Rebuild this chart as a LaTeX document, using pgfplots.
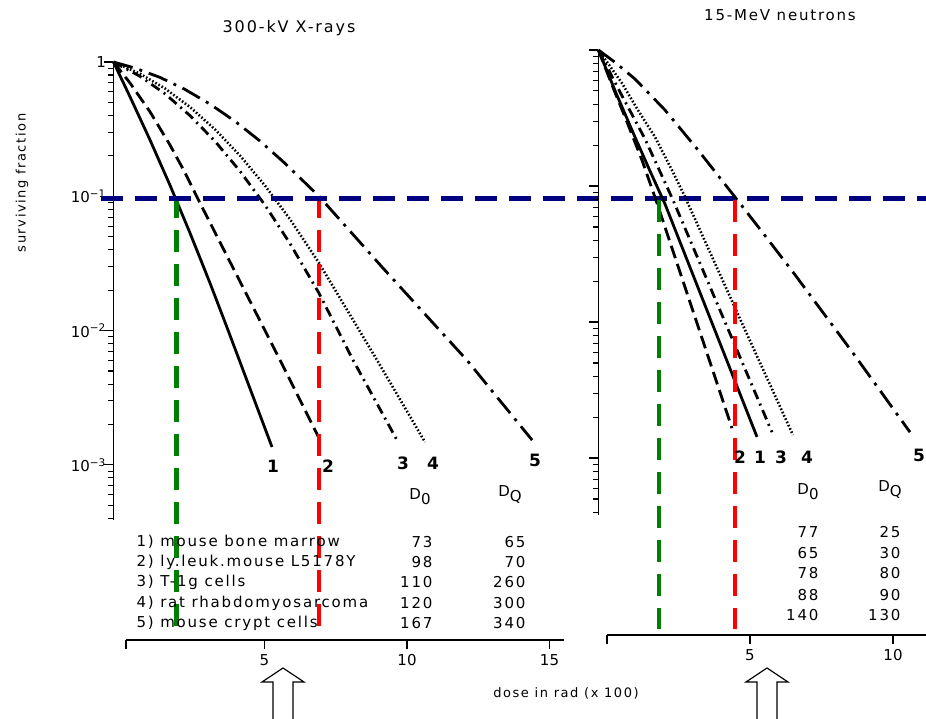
\documentclass[border=0pt]{standalone}
\usepackage{fontspec}
\setmainfont{DejaVu Sans}[LetterSpace=12]
\newfontfamily\nsf{DejaVu Sans}
\newfontfamily\bsf{DejaVu Sans Bold}
\usepackage{pgfplots}
\pgfplotsset{compat=1.18}
\definecolor{navyb}{RGB}{0,0,128}
\definecolor{grn}{RGB}{0,128,0}
\definecolor{rd}{RGB}{255,0,0}
\tikzset{
  cvA/.style={black, mark=none, line width=2.8pt, line join=round},
  cvB/.style={cvA, dash pattern=on 13pt off 6pt},
  cvC/.style={cvA, dash pattern=on 10pt off 5pt on 2pt off 5pt},
  cvD/.style={cvA, line width=2.6pt, dash pattern=on 1.6pt off 2pt},
  cvE/.style={cvA, dash pattern=on 20pt off 7pt on 3pt off 7pt},
}
\begin{document}
\begin{tikzpicture}
\path[use as bounding box] (0pt,0pt) rectangle (926pt,719pt);

% ---------------- left panel: 300-kV X-rays
\begin{axis}[scale only axis, clip=false, ymode=log, ymax=1,
  axis line style={draw=none},
  xtick pos=bottom, ytick pos=left, tick align=outside,
  major tick length=9pt, minor tick length=5pt,
  tick style={black, line width=1.1pt},
  ytick={0.001,0.01,0.1,1},
  minor ytick={4e-4,5e-4,6e-4,7e-4,8e-4,9e-4,2e-3,3e-3,4e-3,5e-3,6e-3,7e-3,8e-3,9e-3,2e-2,3e-2,4e-2,5e-2,6e-2,7e-2,8e-2,9e-2,0.2,0.3,0.4,0.5,0.6,0.7,0.8,0.9},
  xticklabel style={font=\nsf\fontsize{15}{15}\selectfont, yshift=-2pt},
  yticklabel style={font=\nsf\fontsize{15}{15}\selectfont, xshift=5pt},
  at={(113.45pt,79pt)}, anchor=south west,
  width=450.3pt, height=578pt, xmin=-0.3, xmax=15.5, ymin=4.97e-5,
  xtick={0.14,5,10,15}, xticklabels={,5,10,15},
  yticklabels={10\textsuperscript{−3},10\textsuperscript{−2},10\textsuperscript{−1},1}]
\addplot[black, mark=none, line width=1.3pt] coordinates {(-0.3,1) (-0.3,3.9e-4)};
\addplot[black, mark=none, line width=1.6pt] coordinates {(0.14,4.97e-5) (15.5,4.97e-5)};
% curves
\addplot[cvA] coordinates {(-0.3,1) (0.281,0.551) (0.982,0.263) (1.684,0.121) (2.386,0.0533) (3.088,0.0226) (3.719,0.0101) (5.263,1.36e-3)};
\addplot[cvB] coordinates {(-0.3,1) (0.281,0.698) (0.982,0.426) (1.684,0.241) (2.211,0.150) (2.737,0.0891) (5.544,6.04e-3) (6.947,1.53e-3)};
\addplot[cvC] coordinates {(-0.3,1) (0.632,0.783) (1.509,0.580) (2.386,0.399) (3.263,0.257) (4.140,0.154) (5.018,0.0859) (5.895,0.0445) (6.912,0.0190) (8.105,6.04e-3) (9.649,1.53e-3)};
\addplot[cvD] coordinates {(-0.3,1) (0.632,0.818) (1.509,0.635) (2.386,0.462) (3.263,0.315) (4.140,0.201) (5.018,0.120) (5.895,0.0675) (6.912,0.0319) (8.947,6.04e-3) (10.63,1.48e-3)};
\addplot[cvE] coordinates {(-0.3,1) (0.456,0.901) (1.333,0.768) (2.211,0.625) (3.088,0.486) (3.965,0.362) (4.842,0.258) (5.719,0.176) (6.912,0.1) (9.12,0.0298) (12.11,6.0e-3) (14.39,1.53e-3)};
% guide lines
\addplot[grn, mark=none, line width=4.5pt, dash pattern=on 22pt off 12pt] coordinates {(1.91,0.1) (1.91,5.5e-5)};
\addplot[rd, mark=none, line width=4.5pt, dash pattern=on 22pt off 12pt] coordinates {(6.91,0.1) (6.91,5.5e-5)};
\addplot[navyb, mark=none, line width=5pt, dash pattern=on 22pt off 12pt] coordinates {(-0.72,0.097) (28.8,0.097)};
\end{axis}

% ---------------- right panel: 15-MeV neutrons
\begin{axis}[scale only axis, clip=false, ymode=log, ymax=1,
  axis line style={draw=none},
  xtick pos=bottom, ytick pos=left, tick align=outside,
  major tick length=9pt, minor tick length=5pt,
  tick style={black, line width=1.1pt},
  ytick={0.001,0.01,0.1,1},
  minor ytick={4e-4,5e-4,6e-4,7e-4,8e-4,9e-4,2e-3,3e-3,4e-3,5e-3,6e-3,7e-3,8e-3,9e-3,2e-2,3e-2,4e-2,5e-2,6e-2,7e-2,8e-2,9e-2,0.2,0.3,0.4,0.5,0.6,0.7,0.8,0.9},
  xticklabel style={font=\nsf\fontsize{15}{15}\selectfont, yshift=-2pt},
  at={(598.4pt,84pt)}, anchor=south west,
  width=337.5pt, height=585pt, xmin=-0.3, xmax=11.5, ymin=5.0e-5,
  xtick={0,5,10}, xticklabels={,5,10},
  yticklabels={}]
\addplot[black, mark=none, line width=1.3pt] coordinates {(-0.3,1) (-0.3,3.8e-4)};
\addplot[black, mark=none, line width=1.6pt] coordinates {(0,5.0e-5) (11.5,5.0e-5)};
\addplot[cvB] coordinates {(-0.3,1) (0.175,0.553) (0.699,0.296) (1.224,0.155) (1.748,0.075) (4.37,1.66e-3)};
\addplot[cvA] coordinates {(-0.3,1) (0.315,0.483) (0.979,0.229) (1.503,0.129) (2.028,0.0738) (5.245,1.43e-3)};
\addplot[cvC] coordinates {(-0.3,1) (0.455,0.491) (1.329,0.222) (2.308,0.0789) (5.769,1.55e-3)};
\addplot[cvD] coordinates {(-0.3,1) (0.03,0.80) (0.52,0.572) (1.08,0.362) (1.68,0.229) (2.27,0.131) (2.73,0.083) (4.72,9.8e-3) (6.50,1.48e-3)};
\addplot[cvE] coordinates {(-0.3,1) (0.280,0.812) (0.979,0.612) (2.028,0.362) (3.182,0.184) (4.476,0.0830) (5.455,0.0451) (6.503,0.0233) (8.601,5.92e-3) (10.594,1.55e-3)};
\addplot[grn, mark=none, line width=4.5pt, dash pattern=on 22pt off 12pt] coordinates {(1.82,0.0789) (1.82,5.5e-5)};
\addplot[rd, mark=none, line width=4.5pt, dash pattern=on 22pt off 12pt] coordinates {(4.48,0.0789) (4.48,5.5e-5)};
\end{axis}

\begin{scope}[x=1pt,y=1pt]
% ---------------- text
\node[font=\fontsize{16}{16}\selectfont] at (289,691) {300-kV X-rays};
\node[font=\fontsize{15}{15}\selectfont] at (780,704) {15-MeV neutrons};
\node[font=\fontsize{13}{13}\selectfont, rotate=90] at (22,536) {surviving fraction};
\node[font=\fontsize{13}{13}\selectfont] at (566,26) {dose in rad (x 100)};

\begin{scope}[every node/.style={font=\bsf\fontsize{17}{17}\selectfont}]
\node at (273,253) {1}; \node at (328,253) {2}; \node at (403,256) {3};
\node at (433,256) {4}; \node at (535,259) {5};
\node at (740,262) {2}; \node at (760,262) {1}; \node at (781,262) {3};
\node at (807,262) {4}; \node at (919,264) {5};
\end{scope}

\begin{scope}[every node/.style={font=\fontsize{15}{15}\selectfont}]
\node at (420,222) {D\raisebox{-5pt}{0}};
\node at (510,224) {D\raisebox{-5pt}{Q}};
\node[anchor=west] at (133,177) {1) mouse bone marrow};
\node[anchor=west] at (133,157) {2) ly.leuk.mouse L5178Y};
\node[anchor=west] at (133,137) {3) T-1g cells};
\node[anchor=west] at (133,116) {4) rat rhabdomyosarcoma};
\node[anchor=west] at (133,96) {5) mouse crypt cells};
\node[anchor=east] at (436,177) {73};  \node[anchor=east] at (529,177) {65};
\node[anchor=east] at (436,157) {98};  \node[anchor=east] at (529,157) {70};
\node[anchor=east] at (436,137) {110}; \node[anchor=east] at (529,137) {260};
\node[anchor=east] at (436,116) {120}; \node[anchor=east] at (529,116) {300};
\node[anchor=east] at (436,96) {167};  \node[anchor=east] at (529,96) {340};
\node at (808,227) {D\raisebox{-5pt}{0}};
\node at (890,229) {D\raisebox{-5pt}{Q}};
\node[anchor=east] at (822,187) {77};  \node[anchor=east] at (904,187) {25};
\node[anchor=east] at (822,166) {65};  \node[anchor=east] at (904,166) {30};
\node[anchor=east] at (822,146) {78};  \node[anchor=east] at (904,146) {80};
\node[anchor=east] at (822,124) {88};  \node[anchor=east] at (904,124) {90};
\node[anchor=east] at (822,104) {140}; \node[anchor=east] at (904,104) {130};
\end{scope}

% hollow arrows
\draw[line width=1.2pt, fill=white] (283,51) -- (304,37) -- (293,37) -- (293,-3) -- (273,-3) -- (273,37) -- (262,37) -- cycle;
\draw[line width=1.2pt, fill=white] (767,51) -- (788,37) -- (777,37) -- (777,-3) -- (757,-3) -- (757,37) -- (746,37) -- cycle;
\end{scope}
\end{tikzpicture}
\end{document}
